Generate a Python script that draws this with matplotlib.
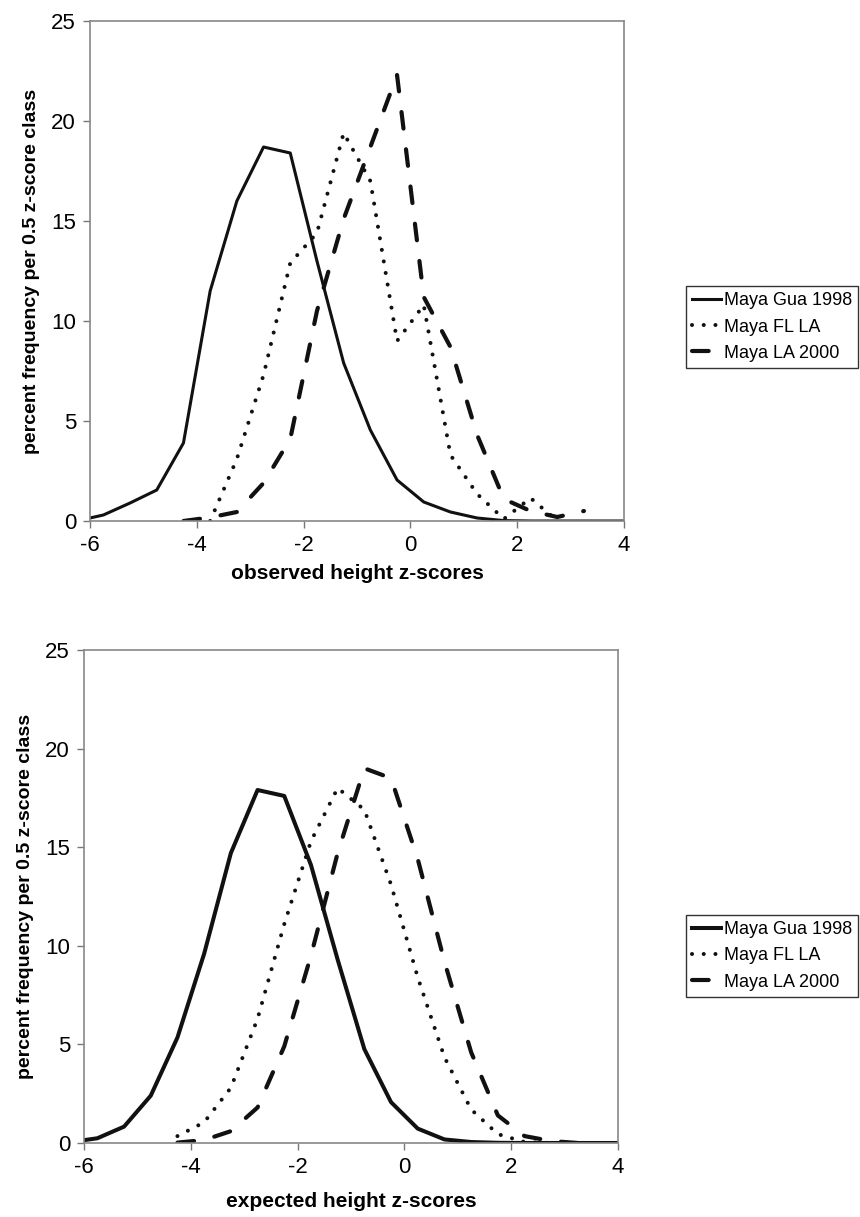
import numpy as np
import matplotlib
matplotlib.use('Agg')
import matplotlib.pyplot as plt

plt.rcParams['font.family'] = ['Liberation Sans', 'DejaVu Sans']
plt.rcParams['axes.unicode_minus'] = False

# class midpoints (0.5 z-score classes)
gua_x = [-6.25, -5.75, -5.25, -4.75, -4.25, -3.75, -3.25, -2.75, -2.25, -1.75, -1.25,
         -0.75, -0.25, 0.25, 0.75, 1.25, 1.75, 2.25, 2.75, 3.25, 3.75, 4.25]
fl_obs_x = [-3.75, -3.25, -2.75, -2.25, -1.75, -1.25, -0.75, -0.25, 0.25, 0.75, 1.25,
            1.75, 2.25, 2.75]
la_x = [-4.25, -3.75, -3.25, -2.75, -2.25, -1.75, -1.25, -0.75, -0.25, 0.25, 0.75,
        1.25, 1.75, 2.25, 2.75, 3.25]
fl_exp_x = [-4.25, -3.75, -3.25, -2.75, -2.25, -1.75, -1.25, -0.75, -0.25, 0.25, 0.75,
            1.25, 1.75, 2.25, 2.75]

# observed
gua_obs = [0.0, 0.3, 0.9, 1.55, 3.9, 11.5, 16.0, 18.7, 18.4, 13.0, 7.9,
           4.55, 2.05, 0.95, 0.45, 0.15, 0.02, 0, 0, 0, 0, 0]
fl_obs = [0.0, 3.1, 7.3, 12.9, 14.4, 19.4, 17.0, 9.0, 10.8, 3.3, 1.35,
          0.1, 1.15, 0.0]
la_obs = [0.0, 0.18, 0.45, 1.9, 4.1, 10.5, 15.1, 18.7, 22.3, 11.2, 8.7,
          4.3, 1.1, 0.5, 0.2, 0.5]

# expected
gua_exp = [0.05, 0.24, 0.83, 2.4, 5.35, 9.6, 14.7, 17.9, 17.6, 14.1, 9.3,
           4.76, 2.07, 0.73, 0.18, 0.05, 0.01, 0, 0, 0, 0, 0]
fl_exp = [0.35, 1.05, 2.8, 6.3, 11.1, 15.3, 18.0, 16.9, 13.1, 8.4, 4.35,
          1.7, 0.45, 0.05, 0.0]
la_exp = [0.02, 0.15, 0.6, 1.8, 4.9, 9.5, 14.7, 19.0, 18.5, 14.4, 9.2,
          4.6, 1.4, 0.35, 0.1, 0.0]

labels = ['Maya Gua 1998', 'Maya FL LA', 'Maya LA 2000']
x_ticks = [-6, -4, -2, 0, 2, 4]
y_ticks = [0, 5, 10, 15, 20, 25]
ylab = 'percent frequency per 0.5 z-score class'

W, H = 860, 1217
fig = plt.figure(figsize=(W / 100, H / 100), dpi=100)


def px_axes(left, top, right, bottom):
    return fig.add_axes([left / W, 1 - bottom / H, (right - left) / W, (bottom - top) / H])


def draw(ax, g, fx, f, l, xlabel, lw_solid, leg_y, xpad):
    ax.plot(gua_x, g, color='#111111', lw=lw_solid, label=labels[0])
    ax.plot(fx, f, color='#111111', lw=2.9, linestyle=(0, (0.01, 2.9)),
            dash_capstyle='round', label=labels[1])
    ax.plot(la_x, l, color='#111111', lw=3.0, linestyle=(0, (4.0, 5.0)),
            dash_capstyle='round', label=labels[2])
    ax.set_xlim(-6, 4)
    ax.set_ylim(0, 25)
    ax.set_xticks(x_ticks)
    ax.set_yticks(y_ticks)
    ax.tick_params(direction='out', length=5, width=1, color='#777777',
                   labelsize=16, pad=5)
    for s in ax.spines.values():
        s.set_color('#888888')
        s.set_linewidth(1.2)
    ax.set_ylabel(ylab, fontsize=14, fontweight='bold', labelpad=8)
    ax.set_xlabel(xlabel, fontsize=15, fontweight='bold', labelpad=xpad)
    leg = ax.legend(loc='center left', bbox_to_anchor=(686 / W, 1 - leg_y / H),
                    bbox_transform=fig.transFigure,
                    fontsize=13, frameon=True, fancybox=False, edgecolor='black',
                    handlelength=1.6, handletextpad=0.15, borderpad=0.35,
                    labelspacing=0.5, borderaxespad=0)
    leg.get_frame().set_linewidth(1.0)
    return leg


ax1 = px_axes(90, 21, 624, 521)
draw(ax1, gua_obs, fl_obs_x, fl_obs, la_obs, 'observed height z-scores', 2.2, 327, 6)

ax2 = px_axes(84, 650, 618, 1143)
draw(ax2, gua_exp, fl_exp_x, fl_exp, la_exp, 'expected height z-scores', 2.9, 956, 10)

fig.savefig('out.png', dpi=100, facecolor='white')
